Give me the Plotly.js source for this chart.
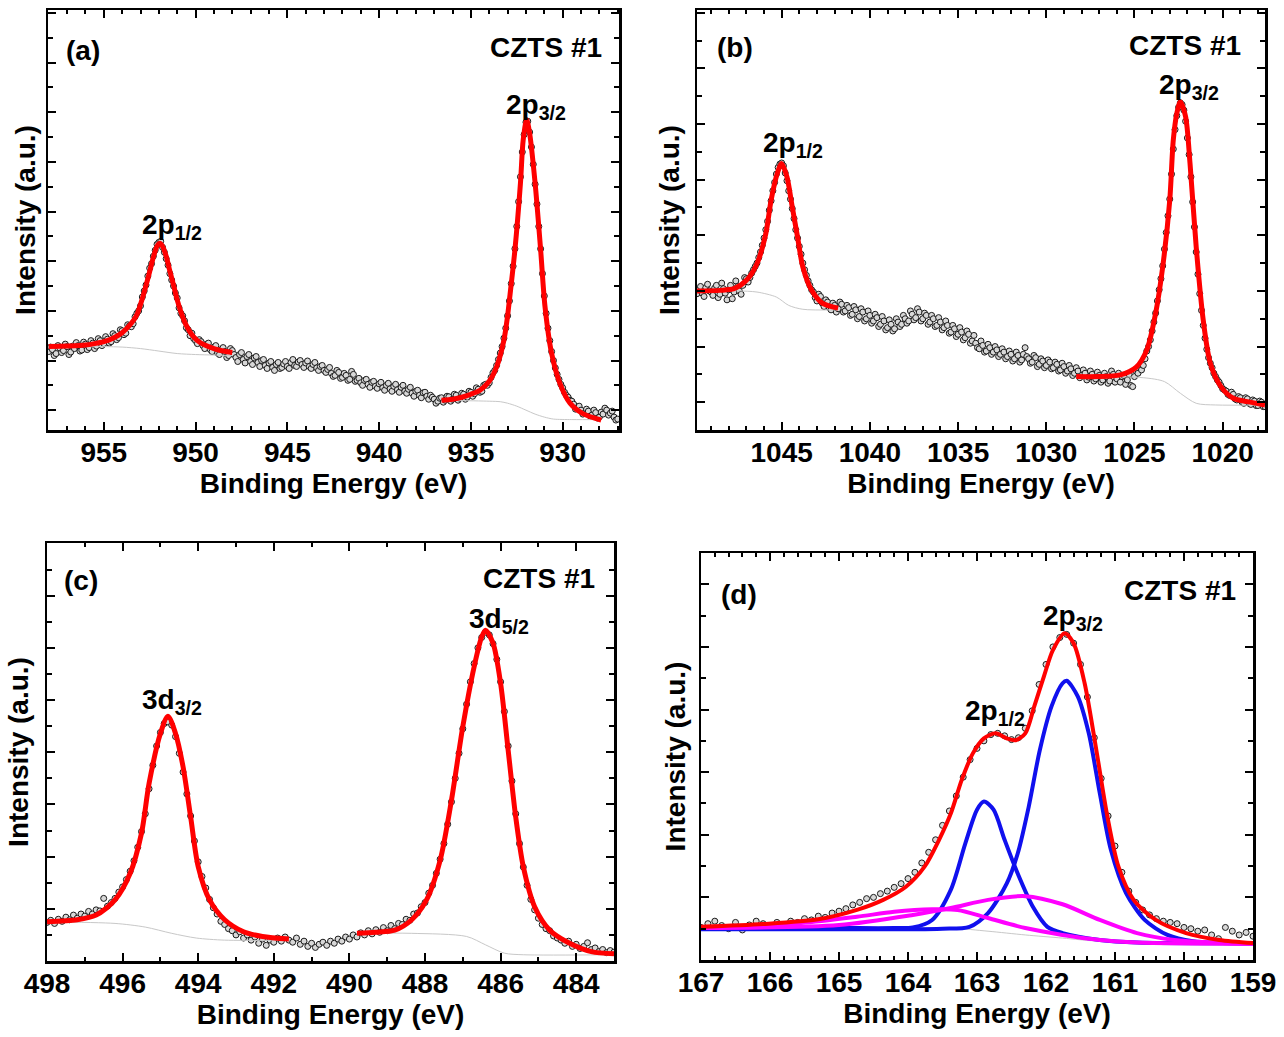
<!DOCTYPE html>
<html>
<head>
<meta charset="utf-8">
<script src="https://cdn.plot.ly/plotly-3.0.1.min.js"></script>
<style>html,body{margin:0;padding:0;background:#fff}#chart{width:1284px;height:1037px}</style>
</head>
<body>
<div id="chart"></div>
<script>
// ---------------- DATA ----------------
// (a) Cu 2p : measured points, 958.0 eV down to 927.0 eV in 0.1 eV steps
const aStartE = 958.0, aStepE = -0.1;
const aData = [
1.18,1.27,1.22,1.10,1.14,1.30,1.25,1.16,1.20,1.33,1.28,1.12,1.17,1.29,1.24,1.36,1.30,1.19,1.21,1.37,
1.33,1.22,1.26,1.40,1.35,1.24,1.29,1.44,1.40,1.30,1.34,1.48,1.43,1.35,1.38,1.54,1.50,1.42,1.46,1.62,
1.60,1.52,1.55,1.72,1.70,1.68,1.74,1.88,1.95,2.00,2.10,2.28,2.40,2.52,2.70,2.86,2.95,3.10,3.22,3.34,
3.38,3.40,3.28,3.18,3.05,2.92,2.75,2.62,2.50,2.36,2.26,2.06,1.95,1.90,1.80,1.66,1.62,1.50,1.55,1.44,
1.40,1.34,1.42,1.38,1.30,1.24,1.33,1.35,1.22,1.18,1.27,1.30,1.15,1.12,1.22,1.26,1.18,1.06,1.10,1.24,
1.20,1.12,1.06,0.98,1.12,1.16,1.02,0.95,1.08,1.12,0.98,0.92,1.05,1.08,0.96,0.88,1.00,1.02,0.90,0.84,
0.95,0.98,0.86,0.80,0.92,0.96,0.84,0.86,0.93,0.98,0.88,0.84,0.96,1.02,0.90,0.88,0.97,1.00,0.92,0.86,
0.95,0.99,0.88,0.84,0.92,0.96,0.85,0.80,0.88,0.90,0.80,0.76,0.82,0.86,0.74,0.68,0.70,0.80,0.76,0.64,
0.66,0.74,0.70,0.60,0.62,0.78,0.72,0.58,0.60,0.64,0.55,0.50,0.60,0.62,0.52,0.46,0.56,0.58,0.48,0.44,
0.53,0.56,0.45,0.40,0.50,0.54,0.43,0.38,0.48,0.52,0.41,0.36,0.46,0.50,0.38,0.34,0.42,0.46,0.34,0.28,
0.38,0.40,0.30,0.25,0.35,0.36,0.28,0.22,0.30,0.26,0.22,0.14,0.18,0.24,0.25,0.16,0.20,0.28,0.27,0.18,
0.22,0.32,0.30,0.20,0.24,0.34,0.32,0.22,0.26,0.38,0.36,0.28,0.33,0.45,0.42,0.36,0.38,0.50,0.52,0.50,
0.55,0.66,0.75,0.80,0.90,1.02,1.15,1.28,1.45,1.65,1.90,2.20,2.55,2.90,3.25,3.70,4.20,4.70,5.20,5.55,
5.80,5.82,5.60,5.30,4.95,4.55,4.15,3.70,3.25,2.75,2.30,1.95,1.65,1.40,1.18,1.00,0.85,0.72,0.62,0.52,
0.45,0.36,0.30,0.26,0.20,0.18,0.12,0.02,0.05,0.08,0.00,-0.08,-0.06,0.02,-0.02,-0.12,-0.10,0.00,-0.05,-0.16,
-0.14,-0.04,-0.08,0.04,0.00,-0.10,-0.06,-0.02,-0.14,-0.20,-0.18];
const aFit1E = [958.0,957.0,956.0,955.5,955.0,954.5,954.0,953.5,953.2,952.9,952.6,952.3,952.1,951.95,951.8,951.6,951.4,951.2,951.0,950.8,950.5,950.2,949.9,949.5,949.0,948.5,948.0];
const aFit1I = [1.28,1.29,1.31,1.34,1.38,1.45,1.56,1.75,1.92,2.25,2.65,3.08,3.30,3.36,3.30,3.10,2.80,2.52,2.22,1.98,1.70,1.52,1.40,1.31,1.24,1.19,1.16];
const aFit2E = [936.6,936.0,935.4,935.0,934.5,934.0,933.6,933.2,933.0,932.9,932.6,932.3,932.15,931.96,931.8,931.5,931.2,930.96,930.6,930.15,929.6,928.9,927.9];
const aFit2I = [0.20,0.22,0.27,0.32,0.40,0.58,0.87,1.41,1.90,2.22,3.23,4.57,5.44,5.85,5.58,4.57,3.23,2.08,1.14,0.54,0.14,-0.07,-0.20];
const aBg1E = [958.0,955.0,954.0,953.0,952.0,951.0,950.0,949.0,948.0];
const aBg1I = [1.28,1.28,1.27,1.24,1.19,1.14,1.12,1.11,1.10];
const aBg2E = [936.6,934.0,933.4,933.0,932.5,932.0,931.5,931.0,930.5,929.5,927.9];
const aBg2I = [0.20,0.18,0.17,0.14,0.08,0.00,-0.08,-0.14,-0.18,-0.19,-0.19];

// (b) Zn 2p : measured points, 1049.8 eV down to 1017.6 eV in 0.1 eV steps
const bStartE = 1049.8, bStepE = -0.1;
const bData = [
1.95,2.02,2.08,1.96,1.90,2.06,2.12,2.00,1.98,1.92,2.05,2.10,1.88,1.94,2.14,2.04,1.96,1.84,2.02,2.10,
1.86,1.98,2.18,2.08,2.00,1.94,2.10,2.24,2.22,2.16,2.24,2.32,2.38,2.44,2.50,2.60,2.70,2.82,2.95,3.10,
3.25,3.45,3.62,3.80,3.95,4.10,4.22,4.28,4.30,4.25,4.12,3.98,3.80,3.65,3.48,3.30,3.10,2.95,2.80,2.66,
2.50,2.38,2.28,2.18,2.10,2.02,1.98,1.88,1.82,1.94,1.90,1.78,1.72,1.84,1.80,1.70,1.66,1.78,1.74,1.62,
1.68,1.80,1.76,1.62,1.64,1.74,1.70,1.56,1.58,1.72,1.66,1.50,1.54,1.68,1.62,1.46,1.50,1.64,1.56,1.42,
1.46,1.58,1.52,1.36,1.40,1.54,1.46,1.30,1.34,1.48,1.40,1.28,1.32,1.50,1.44,1.36,1.40,1.56,1.50,1.42,
1.46,1.64,1.58,1.48,1.52,1.68,1.62,1.46,1.50,1.60,1.56,1.40,1.44,1.56,1.50,1.36,1.38,1.52,1.44,1.30,
1.34,1.46,1.38,1.24,1.26,1.38,1.32,1.18,1.22,1.34,1.26,1.12,1.16,1.28,1.22,1.06,1.10,1.20,1.06,0.98,
0.96,1.10,1.02,0.90,0.92,1.04,0.98,0.86,0.90,1.00,0.94,0.82,0.86,0.96,0.90,0.78,0.82,0.92,0.86,0.74,
0.78,0.90,0.84,0.72,0.76,0.86,0.98,0.82,0.78,0.70,0.72,0.84,0.80,0.64,0.68,0.78,0.74,0.62,0.66,0.76,
0.72,0.60,0.62,0.72,0.68,0.56,0.58,0.70,0.64,0.52,0.56,0.66,0.60,0.48,0.52,0.62,0.56,0.44,0.48,0.58,
0.52,0.40,0.45,0.56,0.50,0.38,0.42,0.54,0.48,0.36,0.40,0.52,0.46,0.34,0.38,0.56,0.50,0.36,0.42,0.52,
0.36,0.46,0.48,0.32,0.40,0.50,0.30,0.28,0.46,0.56,0.52,0.64,0.58,0.66,0.78,0.92,1.00,1.12,1.28,1.44,
1.60,1.82,2.02,2.22,2.45,2.75,3.05,3.35,3.65,4.10,4.55,4.90,5.15,5.30,5.38,5.35,5.25,5.05,4.75,4.45,
4.05,3.60,3.15,2.70,2.30,1.95,1.65,1.38,1.15,0.95,0.80,0.70,0.62,0.52,0.46,0.40,0.36,0.30,0.24,0.22,
0.20,0.14,0.12,0.18,0.14,0.06,0.04,0.10,0.08,0.00,-0.02,0.08,0.06,-0.02,-0.04,0.04,0.02,-0.06,-0.06,0.02,
0.00,-0.08,-0.08];
const bFit1E = [1049.8,1048.5,1047.7,1047.0,1046.4,1045.9,1045.6,1045.25,1045.0,1044.7,1044.4,1044.1,1043.8,1043.3,1042.7,1041.8];
const bFit1I = [2.00,2.01,2.04,2.19,2.49,3.03,3.63,4.11,4.29,4.05,3.51,2.97,2.43,2.01,1.78,1.69];
const bFit2E = [1028.3,1027.1,1025.8,1024.9,1024.3,1023.8,1023.4,1023.0,1022.8,1022.6,1022.4,1022.1,1021.85,1021.5,1021.1,1020.7,1020.1,1019.4,1018.6,1017.6];
const bFit2I = [0.46,0.46,0.49,0.63,0.94,1.60,2.43,3.63,4.71,5.19,5.40,5.13,4.29,2.79,1.47,0.70,0.28,0.07,0.01,-0.05];
const bBg1E = [1049.8,1047.5,1046.4,1045.3,1044.6,1043.8,1041.8];
const bBg1I = [2.00,2.00,1.98,1.89,1.74,1.67,1.66];
const bBg2E = [1028.3,1024.5,1023.3,1022.4,1021.5,1020.4,1017.6];
const bBg2I = [0.46,0.44,0.37,0.16,-0.02,-0.05,-0.05];

// (c) Sn 3d : measured points, 498.0 eV down to 483.0 eV in 0.1 eV steps
const cStartE = 498.0, cStepE = -0.1;
const cData = [0.74,0.78,0.72,0.80,0.76,0.84,0.79,0.88,0.82,0.90,0.86,0.95,0.90,0.98,0.96,1.20,1.05,1.12,1.20,1.32,
1.42,1.56,1.72,1.92,2.18,2.48,2.82,3.30,3.75,4.12,4.38,4.55,4.58,4.52,4.30,3.98,3.62,3.20,2.78,2.30,
1.90,1.62,1.40,1.18,1.02,0.90,0.76,0.70,0.62,0.58,0.50,0.56,0.44,0.50,0.40,0.46,0.34,0.42,0.30,0.40,
0.36,0.44,0.38,0.46,0.40,0.36,0.44,0.32,0.38,0.28,0.34,0.26,0.32,0.36,0.30,0.38,0.34,0.42,0.38,0.46,
0.42,0.50,0.46,0.54,0.50,0.58,0.52,0.60,0.55,0.64,0.58,0.68,0.62,0.72,0.70,0.80,0.78,0.90,0.92,1.04,
1.12,1.30,1.45,1.68,1.95,2.25,2.62,3.05,3.50,3.98,4.45,4.92,5.35,5.70,6.00,6.20,6.30,6.25,6.08,5.78,
5.35,4.78,4.12,3.45,2.82,2.25,1.80,1.45,1.18,0.98,0.82,0.70,0.62,0.58,0.48,0.44,0.40,0.34,0.38,0.28,
0.32,0.24,0.28,0.35,0.22,0.25,0.18,0.22,0.16,0.20,0.17];
const cFit1E = [498.0,497.2,496.7,496.2,495.8,495.5,495.3,495.0,494.8,494.6,494.4,494.2,494.0,493.7,493.3,492.8,492.3,491.6];
const cFit1I = [0.75,0.79,0.88,1.17,1.68,2.45,3.40,4.36,4.69,4.36,3.72,2.76,1.81,1.17,0.79,0.56,0.47,0.42];
const cFit2E = [489.8,489.3,488.8,488.35,487.96,487.6,487.3,487.0,486.7,486.5,486.4,486.2,486.0,485.8,485.6,485.4,485.1,484.7,484.2,483.6,483.0];
const cFit2I = [0.53,0.55,0.59,0.79,1.17,1.93,3.08,4.49,5.64,6.21,6.34,6.09,5.32,4.04,2.76,1.81,1.04,0.59,0.35,0.18,0.14];
const cBg1E = [498.0,496.2,495.4,494.7,494.05,493.3,491.6];
const cBg1I = [0.75,0.72,0.65,0.53,0.44,0.40,0.40];
const cBg2E = [489.8,488.35,486.9,486.4,485.9,485.4,483.0];
const cBg2I = [0.53,0.53,0.47,0.31,0.15,0.12,0.12];

// (d) S 2p : measured points, 167.0 eV down to 159.0 eV in 0.1 eV steps
const dStartE = 167.0, dStepE = -0.1;
const dData = [0.52,0.58,0.62,0.55,0.50,0.60,0.48,0.56,0.62,0.58,0.55,0.60,0.52,0.62,0.60,0.66,0.64,0.70,0.68,0.75,
0.78,0.82,0.88,0.92,0.98,1.00,1.06,1.10,1.16,1.22,1.30,1.40,1.55,1.72,1.92,2.15,2.38,2.62,2.92,3.20,
3.38,3.50,3.60,3.62,3.58,3.52,3.55,3.70,3.98,4.40,4.72,5.00,5.15,5.20,5.06,4.72,4.20,3.55,2.90,2.30,
1.82,1.40,1.10,0.92,0.80,0.72,0.66,0.62,0.60,0.58,0.52,0.50,0.46,0.48,0.40,0.34,0.52,0.46,0.40,0.44,0.38];
const dFitE = [167.0,166.1,165.3,164.74,164.36,164.03,163.76,163.55,163.38,163.22,163.06,162.9,162.73,162.57,162.44,162.3,162.17,162.03,161.9,161.73,161.6,161.44,161.27,161.11,160.95,160.73,160.41,159.97,159.49,159.0];
const dFitI = [0.53,0.575,0.65,0.80,0.96,1.17,1.49,1.92,2.34,2.88,3.30,3.54,3.62,3.54,3.51,3.62,4.05,4.53,4.95,5.22,5.06,4.42,3.35,2.29,1.49,0.96,0.64,0.43,0.32,0.27];
const dP12E = [167.0,165.0,164.2,163.93,163.65,163.38,163.17,163.0,162.9,162.76,162.6,162.41,162.19,161.98,161.76,161.22,160.68,159.0];
const dP12I = [0.51,0.51,0.51,0.52,0.64,1.12,1.86,2.40,2.53,2.40,1.92,1.38,0.85,0.53,0.43,0.32,0.28,0.27];
const dP32E = [167.0,164.0,163.5,163.11,162.84,162.57,162.41,162.25,162.09,161.92,161.76,161.7,161.54,161.38,161.22,161.06,160.84,160.57,160.24,159.87,159.0];
const dP32I = [0.49,0.49,0.50,0.53,0.75,1.22,1.70,2.45,3.35,4.05,4.42,4.46,4.21,3.62,2.66,1.76,1.07,0.64,0.40,0.30,0.26];
const dM1E = [167.0,165.55,164.74,164.2,163.65,163.28,162.84,162.3,161.76,161.22,160.68,159.0];
const dM1I = [0.51,0.59,0.69,0.77,0.81,0.80,0.67,0.51,0.40,0.32,0.28,0.26];
const dM2E = [167.0,165.0,163.93,163.38,162.84,162.3,161.76,161.22,160.68,160.14,159.6,159.0];
const dM2I = [0.51,0.56,0.72,0.83,0.96,1.02,0.89,0.64,0.43,0.32,0.28,0.26];
const dBgE = [167.0,163.4,162.84,162.3,161.76,161.22,159.0];
const dBgI = [0.51,0.51,0.46,0.40,0.35,0.30,0.27];

// texts
const xTitle = 'Binding Energy (eV)';
const yTitle = 'Intensity (a.u.)';
const sampleLabel = 'CZTS #1';

// ---------------- STYLE / LAYOUT ----------------
const W = 1284, H = 1037;
const FONT = 'Liberation Sans, Arial, sans-serif';
const px = x => x / W;
const py = y => 1 - y / H;

function pts(x0, dx, y, ax) {
  return {type: 'scatter', mode: 'markers', x0: x0, dx: dx, y: y, xaxis: 'x' + ax, yaxis: 'y' + ax,
    marker: {symbol: 'circle', size: 6, color: '#d8d8d8', line: {color: '#1a1a1a', width: 1}}, hoverinfo: 'skip'};
}
function line(x, y, ax, color, width) {
  return {type: 'scatter', mode: 'lines', x: x, y: y, xaxis: 'x' + ax, yaxis: 'y' + ax,
    line: {color: color, width: width, shape: 'spline', smoothing: 0.8}, hoverinfo: 'skip'};
}
const RED = '#ff0000', GRAY = '#c8c8c8', BLUE = '#1010ee', MAG = '#ff00ff';

const traces = [
  pts(aStartE, aStepE, aData, ''),
  line(aBg1E, aBg1I, '', GRAY, 1), line(aBg2E, aBg2I, '', GRAY, 1),
  line(aFit1E, aFit1I, '', RED, 5), line(aFit2E, aFit2I, '', RED, 5),

  pts(bStartE, bStepE, bData, '2'),
  line(bBg1E, bBg1I, '2', GRAY, 1), line(bBg2E, bBg2I, '2', GRAY, 1),
  line(bFit1E, bFit1I, '2', RED, 5), line(bFit2E, bFit2I, '2', RED, 5),

  pts(cStartE, cStepE, cData, '3'),
  line(cBg1E, cBg1I, '3', GRAY, 1), line(cBg2E, cBg2I, '3', GRAY, 1),
  line(cFit1E, cFit1I, '3', RED, 5), line(cFit2E, cFit2I, '3', RED, 5),

  pts(dStartE, dStepE, dData, '4'),
  line(dBgE, dBgI, '4', GRAY, 1),
  line(dP12E, dP12I, '4', BLUE, 4), line(dP32E, dP32I, '4', BLUE, 4),
  line(dM1E, dM1I, '4', MAG, 4), line(dM2E, dM2I, '4', MAG, 4),
  line(dFitE, dFitI, '4', RED, 4)
];

function xaxis(dom, range, dtick, minor, anchor) {
  return {domain: dom, range: range, anchor: anchor, dtick: dtick, tick0: 0,
    ticks: 'inside', ticklen: 8, tickwidth: 2, tickcolor: '#000',
    minor: {dtick: minor, ticks: 'inside', ticklen: 4, tickwidth: 2, tickcolor: '#000'},
    showline: true, linewidth: 2.5, linecolor: '#000', mirror: 'allticks',
    showgrid: false, zeroline: false, ticklabelstandoff: -4,
    tickfont: {family: FONT, size: 28, color: '#000', weight: 'bold'},
    title: {text: xTitle, standoff: 7, font: {family: FONT, size: 28, color: '#000', weight: 'bold'}}};
}
function yaxis(dom, range, anchor, standoff) {
  return {domain: dom, range: range, anchor: anchor, dtick: 1, tick0: 0,
    ticks: 'inside', ticklen: 8, tickwidth: 2, tickcolor: '#000',
    minor: {dtick: 0.5, ticks: 'inside', ticklen: 5, tickwidth: 2, tickcolor: '#000'},
    showticklabels: false,
    showline: true, linewidth: 2.5, linecolor: '#000', mirror: 'allticks',
    showgrid: false, zeroline: false,
    title: {text: yTitle, standoff: standoff, font: {family: FONT, size: 28, color: '#000', weight: 'bold'}}};
}

function ann(text, x, y, xanchor) {
  return {text: text, x: px(x), y: py(y), xref: 'paper', yref: 'paper', xanchor: xanchor, yanchor: 'middle',
    showarrow: false, font: {family: FONT, size: 28, color: '#000', weight: 'bold'}};
}

const layout = {
  width: W, height: H, margin: {l: 0, r: 0, t: 0, b: 0},
  paper_bgcolor: '#fff', plot_bgcolor: '#fff', showlegend: false,
  xaxis:  xaxis([px(48), px(619)], [958.04, 926.93], 5, 1, 'y'),
  yaxis:  yaxis([py(430), py(10)], [-0.40, 8.06], 'x', 2),
  xaxis2: xaxis([px(697), px(1265)], [1049.8, 1017.6], 5, 1, 'y2'),
  yaxis2: yaxis([py(430), py(10)], [-0.50, 7.05], 'x2', 7),
  xaxis3: xaxis([px(47), px(614)], [498, 483], 2, 1, 'y3'),
  yaxis3: yaxis([py(961), py(543)], [0, 8.01], 'x3', 8),
  xaxis4: xaxis([px(701), px(1253)], [167, 159], 1, 0.2, 'y4'),
  yaxis4: yaxis([py(960), py(553)], [0, 6.5], 'x4', 5),
  annotations: [
    ann('(a)', 64, 50, 'left'), ann(sampleLabel, 604, 47, 'right'),
    ann('2p<sub>1/2</sub>', 140, 226, 'left'), ann('2p<sub>3/2</sub>', 504, 106, 'left'),
    ann('(b)', 715, 47, 'left'), ann(sampleLabel, 1243, 46, 'right'),
    ann('2p<sub>1/2</sub>', 761, 144, 'left'), ann('2p<sub>3/2</sub>', 1157, 86, 'left'),
    ann('(c)', 62, 580, 'left'), ann(sampleLabel, 597, 578, 'right'),
    ann('3d<sub>3/2</sub>', 140, 701, 'left'), ann('3d<sub>5/2</sub>', 467, 620, 'left'),
    ann('(d)', 719, 594, 'left'), ann(sampleLabel, 1238, 590, 'right'),
    ann('2p<sub>1/2</sub>', 963, 712, 'left'), ann('2p<sub>3/2</sub>', 1041, 617, 'left')
  ]
};

Plotly.newPlot('chart', traces, layout, {staticPlot: true, displayModeBar: false});
</script>
</body>
</html>
